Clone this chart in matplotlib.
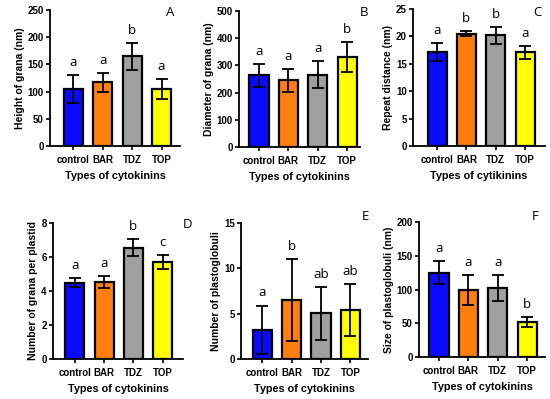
import matplotlib
matplotlib.use("Agg")
import matplotlib.pyplot as plt

categories = ["control", "BAR", "TDZ", "TOP"]
colors = ["#0a0aff", "#ff7f0e", "#a0a0a0", "#ffff00"]

height_vals = [105, 117, 165, 105]
height_err = [26, 17, 25, 18]
height_letters = ["a", "a", "b", "a"]

diam_vals = [263, 245, 266, 330]
diam_err = [43, 42, 50, 55]
diam_letters = ["a", "a", "a", "b"]

repeat_vals = [17.2, 20.5, 20.2, 17.1]
repeat_err = [1.6, 0.45, 1.5, 1.2]
repeat_letters = ["a", "b", "b", "a"]

grana_vals = [4.5, 4.55, 6.55, 5.7]
grana_err = [0.25, 0.35, 0.5, 0.4]
grana_letters = ["a", "a", "b", "c"]

pg_num_vals = [3.2, 6.5, 5.05, 5.4]
pg_num_err = [2.7, 4.5, 2.9, 2.9]
pg_num_letters = ["a", "b", "ab", "ab"]

pg_size_vals = [125, 99, 102, 52]
pg_size_err = [17, 22, 19, 7]
pg_size_letters = ["a", "a", "a", "b"]

W, H = 550, 399

panels = [
    ((50, 180, 10, 146), (-0.80, 3.63), (0, 250), [0, 50, 100, 150, 200, 250],
     "Height of grana (nm)", "Types of cytokinins", height_vals, height_err, height_letters, "A"),
    ((239, 360, 11, 147), (-0.68, 3.44), (0, 500), [0, 100, 200, 300, 400, 500],
     "Diameter of grana (nm)", "Types of cytokinins", diam_vals, diam_err, diam_letters, "B"),
    ((413, 545, 9, 146), (-0.82, 3.68), (0, 25), [0, 5, 10, 15, 20, 25],
     "Repeat distance (nm)", "Types of cytikinins", repeat_vals, repeat_err, repeat_letters, "C"),
    ((53, 183, 223, 359), (-0.75, 3.70), (0, 8), [0, 2, 4, 6, 8],
     "Number of grana per plastid", "Types of cytokinins", grana_vals, grana_err, grana_letters, "D"),
    ((241, 368, 223, 359), (-0.72, 3.60), (0, 15), [0, 5, 10, 15],
     "Number of plastoglobuli", "Types of cytokinins", pg_num_vals, pg_num_err, pg_num_letters, "E"),
    ((419, 545, 222, 357), (-0.68, 3.61), (0, 200), [0, 50, 100, 150, 200],
     "Size of plastoglobuli (nm)", "Types of cytokinins", pg_size_vals, pg_size_err, pg_size_letters, "F"),
]

fig = plt.figure(figsize=(5.5, 3.99), dpi=100)
bold = dict(family="Liberation Sans", weight="bold")
tag_pos = {"A": (170, 13), "B": (364, 13), "C": (537, 13), "D": (187, 224), "E": (365, 216), "F": (535, 217)}

for (l, r, t, b), xlim, ylim, yticks, ylab, xlab, vals, err, letters, tag in panels:
    ax = fig.add_axes([l / W, 1 - b / H, (r - l) / W, (b - t) / H])
    x = range(len(categories))
    ax.bar(x, vals, width=0.65, color=colors, edgecolor="black", linewidth=1.6, zorder=2)
    ax.errorbar(x, vals, yerr=err, fmt="none", ecolor="black", elinewidth=1.3,
                capsize=4, capthick=1.3, zorder=3)
    ax.set_xlim(*xlim)
    ax.set_ylim(*ylim)
    ax.set_yticks(yticks)
    ax.set_xticks(list(x))
    ax.set_xticklabels(categories, fontsize=7, **bold)
    for lab in ax.get_yticklabels():
        lab.set_fontsize(7)
        lab.set_family("Liberation Sans")
        lab.set_weight("bold")
    ax.set_ylabel(ylab, fontsize=7.5, labelpad=2, **bold)
    ax.set_xlabel(xlab, fontsize=7.8, labelpad=4, **bold)
    for s in ["top", "right"]:
        ax.spines[s].set_visible(False)
    for s in ["left", "bottom"]:
        ax.spines[s].set_linewidth(1.3)
    ax.tick_params(axis="both", width=1.2, length=3, pad=1.5)
    ax.tick_params(axis="x", pad=3.5)
    span = ylim[1] - ylim[0]
    for xi, v, e, letter in zip(x, vals, err, letters):
        ax.text(xi, v + e + span * 0.045, letter, ha="center", va="bottom",
                fontsize=9.5, family="Open Sans")
    tx, ty = tag_pos[tag]
    fig.text(tx / W, 1 - ty / H, tag, ha="center", va="center", fontsize=9.5, family="Open Sans")

fig.savefig("out.png", dpi=100)
